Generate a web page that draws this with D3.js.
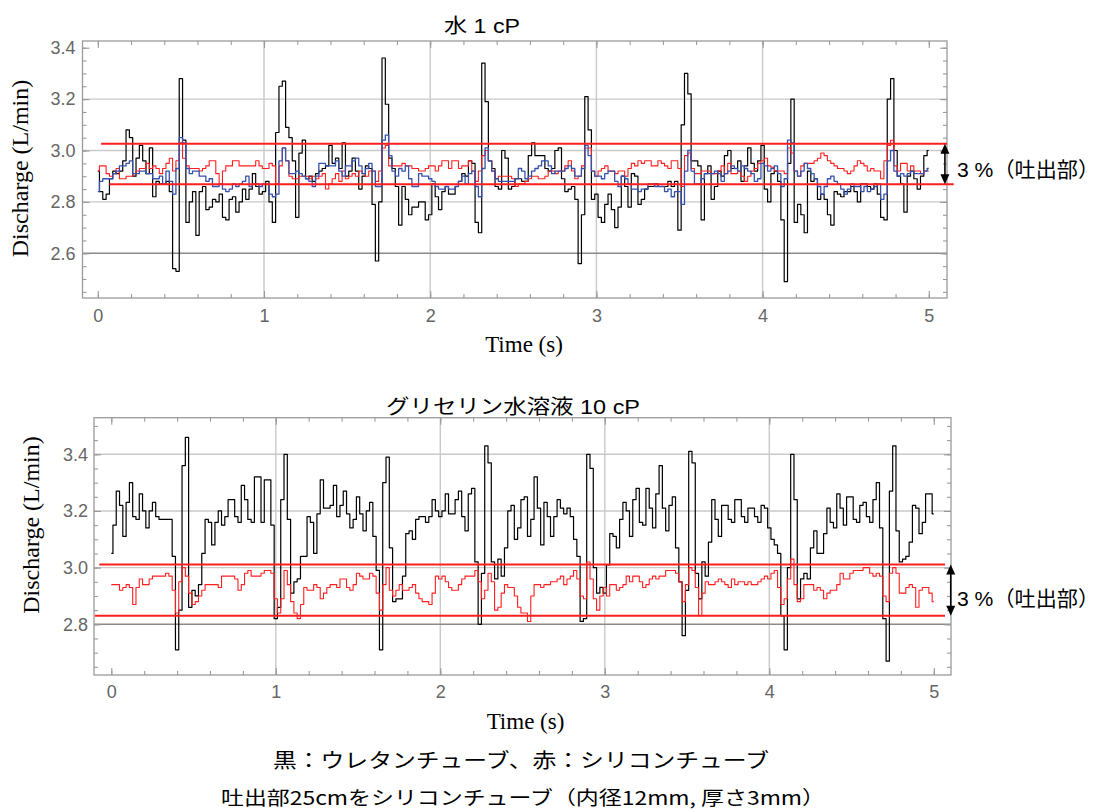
<!DOCTYPE html>
<html><head><meta charset="utf-8">
<script src="https://cdn.jsdelivr.net/npm/d3@7"></script>
<style>body{margin:0;background:#fff}svg{display:block}</style>
</head><body>
<svg id="chart" width="1101" height="812"></svg>
<script>
// ---------------- data ----------------
const sampleStep = 0.02; // s, one value per sample from t = 0 to 5 s
const xTickLabels = [0, 1, 2, 3, 4, 5];

// Top panel: 水 1 cP
const topUrethane = [
 2.92,2.84,2.81,2.83,2.89,2.92,2.91,2.92,2.96,3.08,
 3.05,2.90,2.97,3.02,2.96,2.91,3.01,2.82,2.88,2.87,
 2.87,2.88,2.84,2.54,2.53,3.28,3.04,2.72,2.80,2.84,
 2.67,2.84,2.86,2.77,2.78,2.81,2.80,2.83,2.74,2.73,
 2.81,2.82,2.76,2.80,2.85,2.81,2.85,2.91,2.86,2.83,
 2.84,2.88,2.80,2.72,3.07,3.25,3.27,3.09,3.05,2.96,
 2.74,2.99,3.04,2.89,2.90,2.88,2.91,2.92,2.93,2.94,
 3.02,2.95,2.97,2.93,3.03,2.90,2.92,2.97,2.92,2.85,
 2.90,2.94,2.93,2.79,2.57,2.80,3.36,3.18,2.97,2.93,
 2.86,2.71,2.86,2.81,2.75,2.78,2.78,2.80,2.80,2.73,
 2.75,2.87,2.82,2.77,2.84,2.86,2.83,2.83,2.86,2.88,
 2.91,2.90,2.96,2.95,2.72,2.68,3.34,3.19,2.96,2.93,
 2.86,2.85,3.00,2.97,2.85,2.86,2.89,2.89,2.88,2.88,
 2.98,3.03,2.98,2.98,2.98,2.93,2.92,2.93,3.00,3.01,
 2.89,2.84,2.85,2.86,2.81,2.56,2.75,3.21,3.08,2.81,
 2.83,2.74,2.72,2.79,2.83,2.77,2.70,2.78,2.90,2.86,
 2.78,2.91,2.90,2.79,2.81,2.85,2.86,2.86,2.87,2.86,
 2.86,2.86,2.88,2.86,2.88,2.69,3.10,3.30,3.22,2.96,
 2.96,2.94,2.73,2.91,2.94,2.81,2.86,2.92,2.90,2.98,
 3.00,2.93,2.93,2.96,2.88,2.94,3.01,2.95,2.92,2.96,
 3.02,2.85,2.80,2.91,2.92,2.88,2.73,2.49,2.95,3.20,
 2.72,2.79,2.75,2.68,2.92,2.88,2.89,2.81,2.83,2.81,
 2.75,2.71,2.84,2.83,2.82,2.84,2.84,2.86,2.84,2.80,
 2.87,2.87,2.86,2.85,2.87,2.83,2.74,2.73,3.20,3.28,
 3.00,2.90,2.87,2.76,2.90,2.92,2.89,2.85,2.90,2.98,
 3.00];
const topSilicone = [
 2.92,2.94,2.94,2.91,2.90,2.91,2.93,2.89,2.89,2.90,
 2.90,2.91,2.92,2.93,2.93,2.95,2.93,2.94,2.93,2.91,
 2.93,2.95,2.97,2.92,2.96,3.03,2.97,2.94,2.93,2.93,
 2.93,2.92,2.93,2.94,2.96,2.96,2.91,2.87,2.92,2.94,
 2.94,2.96,2.96,2.94,2.94,2.94,2.94,2.94,2.96,2.94,
 2.93,2.93,2.95,2.94,2.87,2.94,3.01,2.96,2.90,2.89,
 2.89,2.90,2.90,2.90,2.89,2.90,2.89,2.90,2.91,2.85,
 2.87,2.89,2.91,2.88,2.92,2.89,2.90,2.91,2.90,2.92,
 2.91,2.90,2.92,2.92,2.88,2.92,3.01,3.02,2.94,2.94,
 2.94,2.94,2.95,2.94,2.94,2.93,2.93,2.92,2.92,2.93,
 2.94,2.94,2.92,2.94,2.96,2.96,2.93,2.96,2.96,2.93,
 2.94,2.94,2.96,2.92,2.88,2.92,2.98,3.00,2.96,2.92,
 2.89,2.90,2.90,2.90,2.90,2.89,2.86,2.87,2.87,2.88,
 2.89,2.90,2.90,2.89,2.89,2.90,2.92,2.92,2.91,2.92,
 2.92,2.94,2.96,2.92,2.89,2.90,2.94,3.01,3.01,2.92,
 2.90,2.92,2.93,2.94,2.92,2.92,2.91,2.92,2.92,2.90,
 2.93,2.95,2.94,2.96,2.95,2.96,2.96,2.94,2.94,2.96,
 2.95,2.94,2.93,2.96,2.96,2.93,2.86,2.98,2.99,2.93,
 2.91,2.91,2.92,2.92,2.92,2.91,2.91,2.92,2.94,2.91,
 2.95,2.91,2.91,2.92,2.90,2.88,2.90,2.92,2.93,2.95,
 2.96,2.97,2.94,2.935,2.92,2.92,2.92,2.91,3.01,2.99,
 2.92,2.90,2.94,2.95,2.95,2.95,2.96,2.97,2.99,2.98,
 2.96,2.95,2.94,2.93,2.93,2.92,2.91,2.92,2.94,2.96,
 2.95,2.94,2.92,2.93,2.92,2.92,2.89,2.96,3.02,3.04,
 2.94,2.92,2.95,2.95,2.92,2.94,2.92,2.92,2.91,2.92,
 2.92];
const topBlue = [
 2.84,2.88,2.89,2.89,2.89,2.91,2.92,2.94,2.94,2.95,
 2.96,2.91,2.91,2.92,2.92,2.91,2.91,2.89,2.89,2.90,
 2.87,2.92,2.88,2.83,2.93,3.05,3.03,2.93,2.91,2.92,
 2.92,2.90,2.90,2.88,2.89,2.86,2.86,2.87,2.85,2.84,
 2.85,2.87,2.86,2.87,2.88,2.90,2.86,2.87,2.87,2.86,
 2.87,2.87,2.83,2.82,2.83,2.96,3.01,2.96,2.91,2.91,
 2.92,2.91,2.90,2.89,2.88,2.86,2.90,2.95,2.95,2.94,
 2.94,2.94,2.96,2.92,2.90,2.94,2.94,2.96,2.97,2.94,
 2.91,2.93,2.95,2.92,2.86,2.86,3.04,3.06,2.98,2.92,
 2.90,2.93,2.92,2.94,2.89,2.86,2.86,2.91,2.90,2.90,
 2.89,2.88,2.86,2.85,2.85,2.86,2.85,2.85,2.86,2.88,
 2.90,2.87,2.91,2.92,2.86,2.82,2.93,3.01,2.96,2.92,
 2.89,2.88,2.88,2.88,2.88,2.88,2.89,2.93,2.92,2.89,
 2.90,2.92,2.93,2.94,2.96,2.96,2.94,2.91,2.92,2.92,
 2.92,2.93,2.94,2.93,2.90,2.90,2.93,3.02,2.98,2.92,
 2.90,2.90,2.89,2.91,2.92,2.92,2.88,2.86,2.90,2.89,
 2.87,2.85,2.85,2.84,2.85,2.85,2.87,2.87,2.86,2.86,
 2.86,2.84,2.85,2.82,2.84,2.84,2.79,2.92,3.00,2.92,
 2.87,2.87,2.89,2.91,2.91,2.91,2.92,2.91,2.88,2.91,
 2.92,2.94,2.93,2.92,2.94,2.93,2.92,2.91,2.88,2.89,
 2.95,2.94,2.92,2.93,2.94,2.91,2.86,2.89,3.04,3.03,
 2.92,2.90,2.92,2.95,2.93,2.91,2.89,2.86,2.83,2.86,
 2.89,2.90,2.88,2.87,2.85,2.83,2.85,2.87,2.86,2.86,
 2.84,2.86,2.84,2.85,2.86,2.87,2.81,2.83,2.96,3.00,
 2.92,2.90,2.91,2.90,2.91,2.92,2.91,2.91,2.91,2.92,
 2.93];

// Bottom panel: グリセリン水溶液 10 cP
const bottomUrethane = [
 3.05,3.15,3.27,3.22,3.11,3.23,3.30,3.18,3.17,3.26,
 3.20,3.14,3.20,3.23,3.18,3.17,3.17,3.17,3.17,3.04,
 2.71,2.85,3.36,3.46,2.86,2.92,2.90,2.94,3.05,3.17,
 3.16,3.08,3.16,3.20,3.15,3.18,3.24,3.24,3.18,3.16,
 3.29,3.24,3.17,3.16,3.32,3.32,3.16,3.31,3.31,3.15,
 2.82,2.86,3.24,3.40,3.17,2.91,2.95,2.96,3.04,3.04,
 3.18,3.16,3.05,3.19,3.31,3.21,3.21,3.22,3.29,3.18,
 3.22,3.27,3.19,3.14,3.17,3.25,3.19,3.13,3.20,3.23,
 3.11,2.99,2.71,3.30,3.39,3.07,2.88,2.89,2.89,2.97,
 3.12,3.13,3.10,3.17,3.18,3.18,3.16,3.18,3.24,3.20,
 3.18,3.20,3.26,3.19,3.19,3.24,3.27,3.18,3.13,3.26,
 3.28,3.02,2.80,2.98,3.43,3.37,3.02,2.96,3.03,2.97,
 3.07,3.20,3.22,3.10,3.14,3.24,3.25,3.11,3.17,3.32,
 3.21,3.08,3.23,3.18,3.11,3.18,3.24,3.21,3.19,3.21,
 3.18,3.10,3.04,2.81,2.82,3.40,3.35,3.00,2.91,2.93,
 2.91,3.01,3.12,3.11,3.07,3.17,3.23,3.20,3.11,3.24,
 3.28,3.16,3.15,3.28,3.21,3.14,3.26,3.36,3.21,3.13,
 3.22,3.25,3.07,2.95,2.76,2.92,3.41,3.37,2.98,2.89,
 3.02,2.97,3.09,3.24,3.17,3.11,3.22,3.22,3.17,3.16,
 3.24,3.24,3.18,3.16,3.21,3.21,3.18,3.16,3.22,3.21,
 3.14,3.10,3.08,3.05,2.83,2.71,3.00,3.40,3.24,2.89,
 2.96,2.98,2.96,3.07,3.13,3.05,3.05,3.12,3.21,3.16,
 3.14,3.26,3.21,3.15,3.25,3.25,3.17,3.16,3.22,3.23,
 3.18,3.16,3.24,3.30,3.14,2.82,2.67,3.27,3.43,3.13,
 3.02,3.03,3.04,3.09,3.22,3.21,3.12,3.16,3.26,3.26,
 3.19];
const bottomSilicone = [
 2.94,2.94,2.94,2.92,2.93,2.94,2.93,2.87,2.93,2.96,
 2.94,2.94,2.96,2.97,2.97,2.97,2.97,2.98,2.97,2.92,
 2.84,2.95,3.00,2.97,2.91,2.87,2.88,2.90,2.92,2.94,
 2.94,2.94,2.94,2.93,2.97,2.97,2.97,2.97,2.96,2.92,
 2.94,2.98,2.99,2.97,2.97,2.97,2.98,2.99,2.99,2.98,
 2.89,2.84,2.89,2.99,2.94,2.88,2.84,2.82,2.87,2.93,
 2.92,2.92,2.94,2.93,2.89,2.91,2.93,2.94,2.94,2.93,
 2.96,2.96,2.93,2.92,2.94,2.98,2.97,2.96,2.96,2.98,
 2.97,2.91,2.85,2.94,3.00,2.92,2.90,2.92,2.94,2.92,
 2.92,2.93,2.94,2.91,2.89,2.88,2.88,2.87,2.91,2.97,
 2.96,2.97,2.95,2.93,2.92,2.92,2.94,2.96,2.97,2.97,
 2.97,2.99,2.95,2.89,2.92,2.98,2.95,2.85,2.86,2.91,
 2.94,2.93,2.93,2.90,2.86,2.84,2.84,2.81,2.90,2.94,
 2.94,2.93,2.94,2.94,2.95,2.95,2.96,2.97,2.94,2.96,
 2.97,2.99,2.96,2.90,2.89,3.02,2.96,2.89,2.85,2.90,
 2.93,2.90,2.94,2.94,2.92,2.93,2.94,2.97,2.95,2.97,
 2.97,2.95,2.93,2.94,2.96,2.97,2.96,2.97,2.97,2.99,
 2.99,2.99,2.98,2.95,2.88,2.94,3.00,2.99,2.93,2.83,
 2.91,2.95,2.94,2.94,2.95,2.96,2.95,2.94,2.93,2.96,
 2.94,2.95,2.95,2.94,2.95,2.94,2.94,2.95,2.96,2.97,
 2.96,2.98,2.99,2.93,2.87,2.89,2.96,3.03,2.94,2.88,
 2.89,2.94,2.94,2.94,2.92,2.93,2.92,2.89,2.91,2.92,
 2.92,2.94,2.98,2.96,2.96,2.98,2.99,2.99,2.99,3.00,
 3.00,2.98,2.97,2.98,2.97,2.90,2.88,2.98,3.00,2.98,
 2.91,2.91,2.93,2.94,2.93,2.86,2.92,2.93,2.93,2.91,
 2.88];

// 3 % band (吐出部) levels and the time extent of each band line
const topBandLevels = [3.026, 2.869];
const topBandSpans = [[0.02, 5.11], [0.07, 5.15]];
const bottomBandLevels = [3.011, 2.830];
const bottomBandSpans = [[-0.073, 5.068], [-0.10, 5.068]];

const titles = ["水 1 cP", "グリセリン水溶液 10 cP"];
const bandLabel = "3 %（吐出部）";
const xAxisTitle = "Time (s)";
const yAxisTitle = "Discharge (L/min)";
const footer = ["黒：ウレタンチューブ、赤：シリコンチューブ", "吐出部25cmをシリコンチューブ（内径12mm, 厚さ3mm）"];

// ---------------- drawing ----------------
const svg = d3.select("#chart");
const SANS = "'Liberation Sans','Noto Sans CJK JP',Arial,sans-serif";
const SERIF = "'Liberation Serif','Times New Roman',serif";
const JP = "'Noto Sans CJK JP','Liberation Sans',sans-serif";
const RED = "#ff1e1e", BLUE = "#3452ad", GRID = "#c9c9c9", GRID_DARK = "#8a8a8a", FRAME = "#9a9a9a", TICKTXT = "#666";

function drawPanel(cfg) {
  const x = d3.scaleLinear().domain([0, 5]).range(cfg.xRange);
  const y = d3.scaleLinear().domain(cfg.yDomain).range(cfg.yRange);
  const f = cfg.frame;
  const g = svg.append("g");

  // grid
  g.selectAll(null).data([1, 2, 3, 4]).join("line")
    .attr("x1", d => x(d)).attr("x2", d => x(d)).attr("y1", f.t).attr("y2", f.b)
    .attr("stroke", GRID).attr("stroke-width", 1.4);
  g.selectAll(null).data(cfg.gridLight).join("line")
    .attr("x1", f.l).attr("x2", f.r).attr("y1", d => y(d)).attr("y2", d => y(d))
    .attr("stroke", GRID).attr("stroke-width", 1.4);
  g.selectAll(null).data(cfg.gridDark).join("line")
    .attr("x1", f.l).attr("x2", f.r).attr("y1", d => y(d)).attr("y2", d => y(d))
    .attr("stroke", GRID_DARK).attr("stroke-width", 1.4);

  // frame
  g.append("rect").attr("x", f.l).attr("y", f.t).attr("width", f.r - f.l).attr("height", f.b - f.t)
    .attr("fill", "none").attr("stroke", FRAME).attr("stroke-width", 1.3);

  const minorX = d3.range(0, 26).map(i => i * 0.2);
  const majorY = cfg.yMajor;
  const minorY = d3.range(cfg.yMinorRange[0], cfg.yMinorRange[1] + 1).map(i => i * 0.05);

  function styleAxis(sel) {
    sel.select(".domain").remove();
    sel.selectAll("line").attr("stroke", FRAME).attr("stroke-width", 1.1);
    sel.attr("font-size", 18).attr("font-family", SANS);
    sel.selectAll("text").attr("fill", TICKTXT);
  }
  g.append("g").attr("transform", `translate(0,${f.b})`)
    .call(d3.axisBottom(x).tickValues(xTickLabels).tickSize(-7).tickPadding(cfg.xPad).tickFormat(d3.format("d"))).call(styleAxis);
  g.append("g").attr("transform", `translate(0,${f.b})`)
    .call(d3.axisBottom(x).tickValues(minorX).tickSize(-4).tickFormat("")).call(styleAxis);
  g.append("g").attr("transform", `translate(0,${f.t})`)
    .call(d3.axisTop(x).tickValues(xTickLabels).tickSize(-7).tickFormat("")).call(styleAxis);
  g.append("g").attr("transform", `translate(0,${f.t})`)
    .call(d3.axisTop(x).tickValues(minorX).tickSize(-4).tickFormat("")).call(styleAxis);
  g.append("g").attr("transform", `translate(${f.l},0)`)
    .call(d3.axisLeft(y).tickValues(majorY).tickSize(-7).tickPadding(cfg.yPad).tickFormat(d3.format(".1f"))).call(styleAxis);
  g.append("g").attr("transform", `translate(${f.l},0)`)
    .call(d3.axisLeft(y).tickValues(minorY).tickSize(-4).tickFormat("")).call(styleAxis);
  g.append("g").attr("transform", `translate(${f.r},0)`)
    .call(d3.axisRight(y).tickValues(majorY).tickSize(-7).tickFormat("")).call(styleAxis);
  g.append("g").attr("transform", `translate(${f.r},0)`)
    .call(d3.axisRight(y).tickValues(minorY).tickSize(-4).tickFormat("")).call(styleAxis);

  // series (step-like sampled signal)
  const line = d3.line().curve(d3.curveStep).x((d, i) => x(i * sampleStep)).y(d => y(d));
  cfg.series.forEach(s => {
    g.append("path").datum(s.values).attr("d", line)
      .attr("fill", "none").attr("stroke", s.color).attr("stroke-width", s.width)
      .attr("stroke-linejoin", "round");
  });

  // band lines
  cfg.bandLevels.forEach((v, i) => {
    g.append("line").attr("x1", x(cfg.bandSpans[i][0])).attr("x2", x(cfg.bandSpans[i][1]))
      .attr("y1", y(v)).attr("y2", y(v)).attr("stroke", RED).attr("stroke-width", 2);
  });

  // double arrow
  const ax = x(cfg.arrowT), y1 = y(cfg.bandLevels[0]), y2 = y(cfg.bandLevels[1]);
  g.append("line").attr("x1", ax).attr("x2", ax).attr("y1", y1 + 8).attr("y2", y2 - 8)
    .attr("stroke", "#000").attr("stroke-width", 1.6);
  g.append("path").attr("d", `M${ax},${y1}L${ax - 4.5},${y1 + 10}L${ax + 4.5},${y1 + 10}Z`).attr("fill", "#000");
  g.append("path").attr("d", `M${ax},${y2}L${ax - 4.5},${y2 - 10}L${ax + 4.5},${y2 - 10}Z`).attr("fill", "#000");

  // band label
  g.append("text").attr("x", cfg.bandText[0]).attr("y", cfg.bandText[1])
    .attr("font-family", SANS).attr("font-size", 21).attr("fill", "#000")
    .attr("textLength", 142).attr("lengthAdjust", "spacingAndGlyphs").text(bandLabel);

  // title
  g.append("text").attr("x", cfg.title[0]).attr("y", cfg.title[1]).attr("text-anchor", "middle")
    .attr("font-family", SANS).attr("font-size", 20).attr("fill", "#000")
    .attr("textLength", cfg.title[2]).attr("lengthAdjust", "spacingAndGlyphs").text(cfg.titleText);

  // axis titles
  g.append("text").attr("x", cfg.xTitle[0]).attr("y", cfg.xTitle[1]).attr("text-anchor", "middle")
    .attr("font-family", SERIF).attr("font-size", 23).attr("fill", "#000").text(xAxisTitle);
  g.append("text").attr("transform", `translate(${cfg.yTitle[0]},${cfg.yTitle[1]}) rotate(-90)`)
    .attr("text-anchor", "middle").attr("font-family", SERIF).attr("font-size", 24).attr("fill", "#000")
    .text(yAxisTitle);
}

drawPanel({
  xRange: [97.8, 928.8], yDomain: [2.6, 3.4], yRange: [253.3, 47.7],
  frame: { l: 82.5, r: 947, t: 41, b: 298 },
  gridLight: [2.8, 3.0, 3.2], gridDark: [2.6],
  yMajor: [2.6, 2.8, 3.0, 3.2, 3.4], yMinorRange: [49, 68],
  xPad: 11, yPad: 7,
  series: [
    { values: topUrethane, color: "#000", width: 1.2 },
    { values: topSilicone, color: RED, width: 1.1 },
    { values: topBlue, color: BLUE, width: 1.3 }
  ],
  bandLevels: topBandLevels, bandSpans: topBandSpans, arrowT: 5.097,
  bandText: [957, 177],
  title: [482, 33, 76], titleText: titles[0],
  xTitle: [524, 352], yTitle: [28, 168.5]
});

drawPanel({
  xRange: [111.3, 933.8], yDomain: [2.8, 3.4], yRange: [624.3, 454.3],
  frame: { l: 94, r: 951, t: 417.7, b: 675 },
  gridLight: [3.0, 3.2, 3.4], gridDark: [2.8],
  yMajor: [2.8, 3.0, 3.2, 3.4], yMinorRange: [53, 70],
  xPad: 10, yPad: 6,
  series: [
    { values: bottomUrethane, color: "#000", width: 1.2 },
    { values: bottomSilicone, color: RED, width: 1.1 }
  ],
  bandLevels: bottomBandLevels, bandSpans: bottomBandSpans, arrowT: 5.103,
  bandText: [957, 606],
  title: [513, 414, 254], titleText: titles[1],
  xTitle: [525.5, 729], yTitle: [39, 525]
});

// footer
svg.append("text").attr("x", 521).attr("y", 768).attr("text-anchor", "middle")
  .attr("font-family", JP).attr("font-size", 20).attr("fill", "#000")
  .attr("textLength", 496).attr("lengthAdjust", "spacingAndGlyphs").text(footer[0]);
svg.append("text").attr("x", 523).attr("y", 805).attr("text-anchor", "middle")
  .attr("font-family", JP).attr("font-size", 19).attr("fill", "#000")
  .attr("textLength", 604).attr("lengthAdjust", "spacingAndGlyphs").text(footer[1]);
</script>
</body></html>
